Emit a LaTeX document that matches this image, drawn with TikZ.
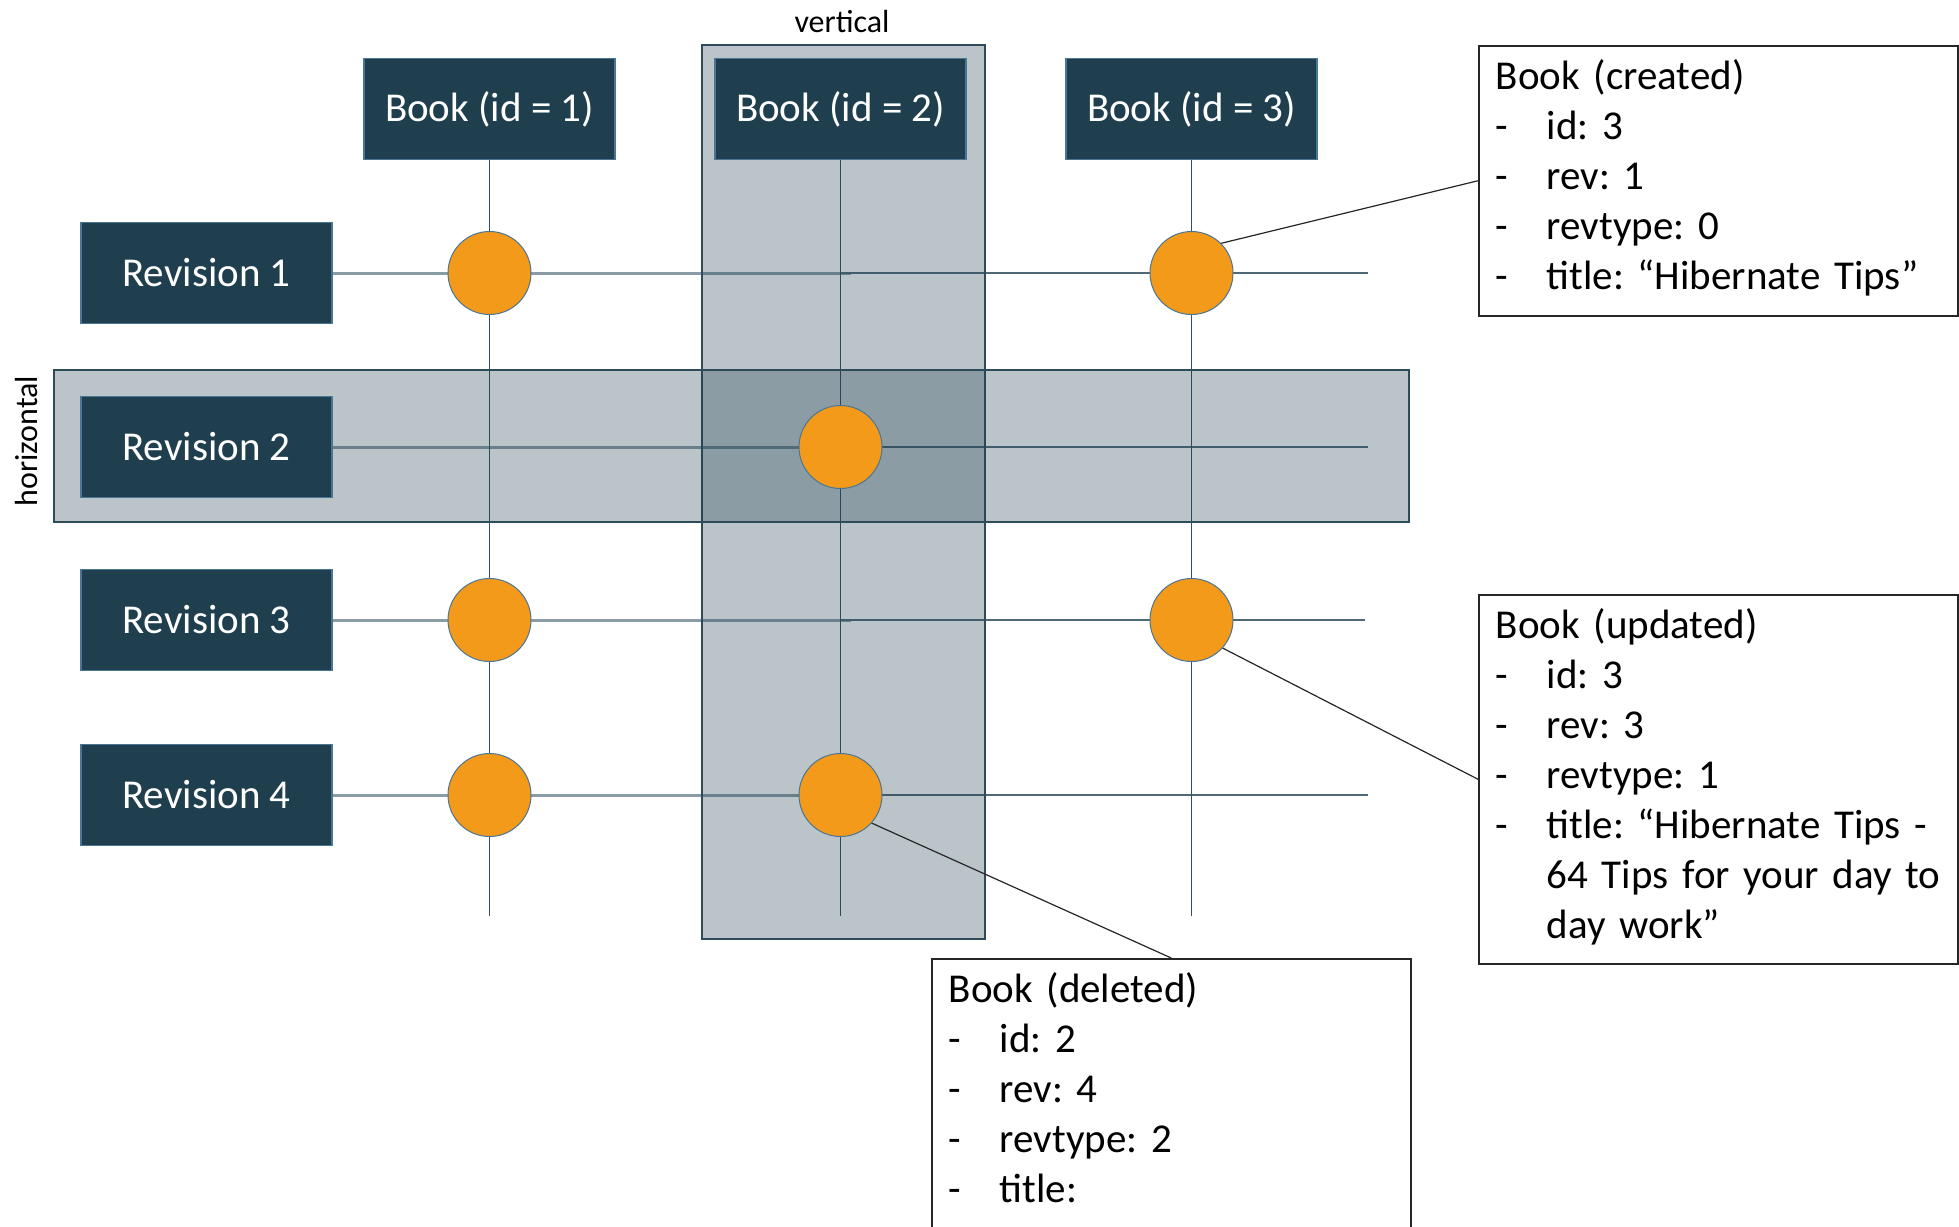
\documentclass[tikz,border=0pt]{standalone}
\usepackage{fontspec}
\setmainfont{Carlito}

\definecolor{boxfill}{HTML}{1F3F4F}
\definecolor{boxline}{HTML}{4A7696}
\definecolor{colline}{HTML}{34505F}
\definecolor{rowlight}{HTML}{8A9CA6}
\definecolor{rowdark}{HTML}{4E6A79}
\definecolor{bandline}{HTML}{2E4B5A}
\definecolor{dot}{HTML}{F39A1A}
\definecolor{notebd}{HTML}{262626}

\newcommand{\bigtext}{\fontsize{20.5pt}{25pt}\selectfont\frenchspacing}
\newcommand{\smalltext}{\fontsize{16pt}{19pt}\selectfont}
\newcommand{\itm}[1]{\makebox[25.5pt][l]{-}#1}

\tikzset{
  darkbox/.style={draw=boxline, line width=0.6pt, fill=boxfill, text=white,
    minimum width=125.5pt, minimum height=50.5pt, inner sep=0pt, font=\bigtext},
  dotnode/.style={circle, draw=boxline, line width=0.5pt, fill=dot,
    minimum size=41.5pt, inner sep=0pt},
  band/.style={fill=boxfill, fill opacity=0.3, draw=bandline, line width=0.75pt},
  colconn/.style={draw=colline, line width=0.7pt},
  rowthick/.style={draw=rowlight, line width=1.5pt},
  rowthin/.style={draw=rowdark, line width=0.7pt},
  note/.style={draw=notebd, line width=0.75pt, fill=white, anchor=north west,
    inner xsep=8.5pt, inner ysep=0pt, text width=222.5pt, align=left,
    font=\bigtext, text height=22pt},
  leader/.style={draw=notebd, line width=0.6pt},
  tag/.style={font=\smalltext, inner sep=0pt}
}

\begin{document}
\begin{tikzpicture}[x=0.5pt,y=-0.5pt]
  \clip (0,0) rectangle (1959,1226);
  \fill[white] (0,0) rectangle (1959,1226);

  % book columns and revision rows
  \node[darkbox] (book1) at (489.5,109) {Book (id = 1)};
  \node[darkbox] (book2) at (840.5,109) {Book (id = 2)};
  \node[darkbox] (book3) at (1191.5,109) {Book (id = 3)};

  \node[darkbox] (rev1) at (206.5,273) {Revision 1};
  \node[darkbox] (rev2) at (206.5,447) {Revision 2};
  \node[darkbox] (rev3) at (206.5,620) {Revision 3};
  \node[darkbox] (rev4) at (206.5,795) {Revision 4};

  % free ends of the grid lines
  \coordinate (b1e) at (489.5,916);
  \coordinate (b2e) at (840.5,916);
  \coordinate (b3e) at (1191.5,916);
  \foreach \r/\y/\e in {1/273/1368, 2/447/1368, 3/620/1365, 4/795/1368}{
    \coordinate (r\r m) at (851,\y);
    \coordinate (r\r s) at (840,\y);
    \coordinate (r\r e) at (\e,\y);
  }

  % grid lines
  \foreach \r in {1,2,3,4}{
    \draw[rowthick] (rev\r.east) -- (r\r m);
    \draw[rowthin] (r\r s) -- (r\r e);
  }
  \draw[colconn] (book1.south) -- (b1e);
  \draw[colconn] (book2.south) -- (b2e);
  \draw[colconn] (book3.south) -- (b3e);

  % highlighted slices
  \path[band] (702,45) rectangle (985,939);
  \path[band] (54,370) rectangle (1409,522);
  \node[tag] (vlabel) at (842,22) {vertical};
  \node[tag, rotate=90] (hlabel) at (27,441) {horizontal};

  % redraw boxes on top of the slices
  \node[darkbox] at (book2) {Book (id = 2)};
  \node[darkbox] at (rev2) {Revision 2};

  % audited changes
  \node[dotnode] (c11) at (489.5,273) {};
  \node[dotnode] (c13) at (1191.5,273) {};
  \node[dotnode] (c22) at (840.5,447) {};
  \node[dotnode] (c31) at (489.5,620) {};
  \node[dotnode] (c33) at (1191.5,620) {};
  \node[dotnode] (c41) at (489.5,795) {};
  \node[dotnode] (c42) at (840.5,795) {};

  % detail notes
  \node[note, text depth=113pt] (created) at (1478,45) {Book (created)\\
    \itm{id: 3}\\
    \itm{rev: 1}\\
    \itm{revtype: 0}\\
    \itm{title: “Hibernate Tips”}};

  \node[note, text depth=162.5pt] (updated) at (1478,594) {Book (updated)\\
    \itm{id: 3}\\
    \itm{rev: 3}\\
    \itm{revtype: 1}\\
    \itm{title: “Hibernate Tips -}\\
    \hspace*{25.5pt}64 Tips for your day to\\
    \hspace*{25.5pt}day work”};

  \node[note, text depth=118pt] (deleted) at (931,958) {Book (deleted)\\
    \itm{id: 2}\\
    \itm{rev: 4}\\
    \itm{revtype: 2}\\
    \itm{title:}};

  \draw[leader] (c13.45) -- (created.west);
  \draw[leader] (c33.-42) -- (updated.west);
  \draw[leader] (c42.-42) -- (deleted.north);
\end{tikzpicture}
\end{document}
